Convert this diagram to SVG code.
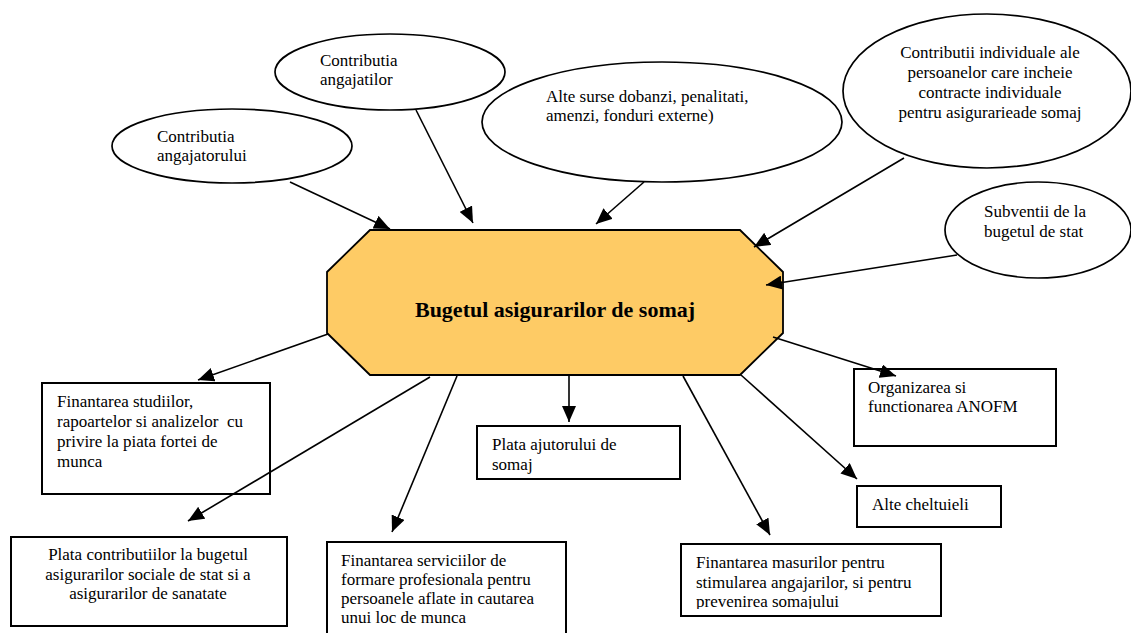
<svg xmlns="http://www.w3.org/2000/svg" width="1131" height="633" viewBox="0 0 1131 633">
<style>
  .t { font-family: "Liberation Serif", "Times New Roman", serif; font-size: 17px; fill: #000; }
  .title { font-family: "Liberation Serif", "Times New Roman", serif; font-size: 22px; font-weight: bold; fill: #000; }
  .ell { fill: #fff; stroke: #000; stroke-width: 1.7; }
  .box { fill: #fff; stroke: #000; stroke-width: 2; }
  .con { stroke: #000; stroke-width: 1.6; fill: none; marker-end: url(#arr); }
  .mid { text-anchor: middle; }
</style>
<defs>
  <marker id="arr" viewBox="0 0 16 14" refX="16" refY="7" markerWidth="16" markerHeight="14" markerUnits="userSpaceOnUse" orient="auto">
    <path d="M0,0 L16,7 L0,14 z" fill="#000"/>
  </marker>
  <clipPath id="clipMas"><rect x="681" y="544" width="260" height="65"/></clipPath>
</defs>
<rect width="1131" height="633" fill="#fff"/>

<g id="n-angajator">
  <ellipse class="ell" cx="232" cy="146" rx="120" ry="37"/>
  <text class="t" x="157" y="142">Contributia</text>
  <text class="t" x="157" y="161">angajatorului</text>
</g>
<g id="n-angajati">
  <ellipse class="ell" cx="390" cy="72" rx="115" ry="38"/>
  <text class="t" x="320" y="66">Contributia</text>
  <text class="t" x="320" y="85">angajatilor</text>
</g>
<g id="n-alte-surse">
  <ellipse class="ell" cx="662" cy="122" rx="180" ry="60"/>
  <text class="t" x="546" y="102">Alte surse dobanzi, penalitati,</text>
  <text class="t" x="546" y="121">amenzi, fonduri externe)</text>
</g>
<g id="n-contributii-individuale">
  <ellipse class="ell" cx="987" cy="91" rx="144" ry="77"/>
  <text class="t mid" x="990" y="58">Contributii individuale ale</text>
  <text class="t mid" x="990" y="78">persoanelor care incheie</text>
  <text class="t mid" x="990" y="98">contracte individuale</text>
  <text class="t mid" x="990" y="118">pentru asigurarieade somaj</text>
</g>
<g id="n-subventii">
  <ellipse class="ell" cx="1038" cy="230" rx="93" ry="48"/>
  <text class="t" x="984" y="217">Subventii de la</text>
  <text class="t" x="984" y="237">bugetul de stat</text>
</g>

<g id="n-buget">
  <polygon points="370,230 740,230 783,272 783,333 740,375 370,375 327,333 327,272" fill="#FECB65" stroke="#000" stroke-width="1.8"/>
  <text class="title mid" x="555" y="317">Bugetul asigurarilor de somaj</text>
</g>

<g id="n-studii">
  <rect class="box" x="42" y="383" width="228" height="111"/>
  <text class="t" x="57" y="407">Finantarea studiilor,</text>
  <text class="t" x="57" y="427" xml:space="preserve">rapoartelor si analizelor  cu</text>
  <text class="t" x="57" y="447">privire la piata fortei de</text>
  <text class="t" x="57" y="467">munca</text>
</g>
<g id="n-plata-contributii">
  <rect class="box" x="11" y="537" width="276" height="89"/>
  <text class="t mid" x="148" y="560">Plata contributiilor la bugetul</text>
  <text class="t mid" x="148" y="580">asigurarilor sociale de stat si a</text>
  <text class="t mid" x="148" y="599">asigurarilor de sanatate</text>
</g>
<g id="n-formare">
  <rect class="box" x="327" y="542" width="239" height="100"/>
  <text class="t" x="341" y="566">Finantarea serviciilor de</text>
  <text class="t" x="341" y="585">formare profesionala pentru</text>
  <text class="t" x="341" y="604">persoanele aflate in cautarea</text>
  <text class="t" x="341" y="623">unui loc de munca</text>
</g>
<g id="n-ajutor">
  <rect class="box" x="477" y="426" width="203" height="53"/>
  <text class="t" x="492" y="450">Plata ajutorului de</text>
  <text class="t" x="492" y="470">somaj</text>
</g>
<g id="n-masuri">
  <rect class="box" x="681" y="544" width="260" height="72"/>
  <text class="t" x="696" y="568">Finantarea masurilor pentru</text>
  <text class="t" x="696" y="588">stimularea angajarilor, si pentru</text>
  <text class="t" x="696" y="607" clip-path="url(#clipMas)">prevenirea somajului</text>
</g>
<g id="n-anofm">
  <rect class="box" x="854" y="369" width="202" height="77"/>
  <text class="t" x="868" y="393">Organizarea si</text>
  <text class="t" x="868" y="412">functionarea ANOFM</text>
</g>
<g id="n-alte-cheltuieli">
  <rect class="box" x="857" y="486" width="144" height="41"/>
  <text class="t" x="872" y="510">Alte cheltuieli</text>
</g>

<g id="connectors">
  <line class="con" x1="290" y1="182" x2="390" y2="229"/>
  <line class="con" x1="416" y1="110" x2="473" y2="223"/>
  <line class="con" x1="644" y1="182" x2="596" y2="224"/>
  <line class="con" x1="904" y1="158" x2="754" y2="247"/>
  <line class="con" x1="957" y1="255" x2="766" y2="285"/>
  <line class="con" x1="328" y1="334" x2="198" y2="380"/>
  <line class="con" x1="430" y1="377" x2="188" y2="521"/>
  <line class="con" x1="457" y1="376" x2="392" y2="532"/>
  <line class="con" x1="569" y1="375" x2="569" y2="422"/>
  <line class="con" x1="683" y1="376" x2="770" y2="535"/>
  <line class="con" x1="741" y1="375" x2="857" y2="479"/>
  <line class="con" x1="773" y1="337" x2="896" y2="376"/>
</g>
</svg>
